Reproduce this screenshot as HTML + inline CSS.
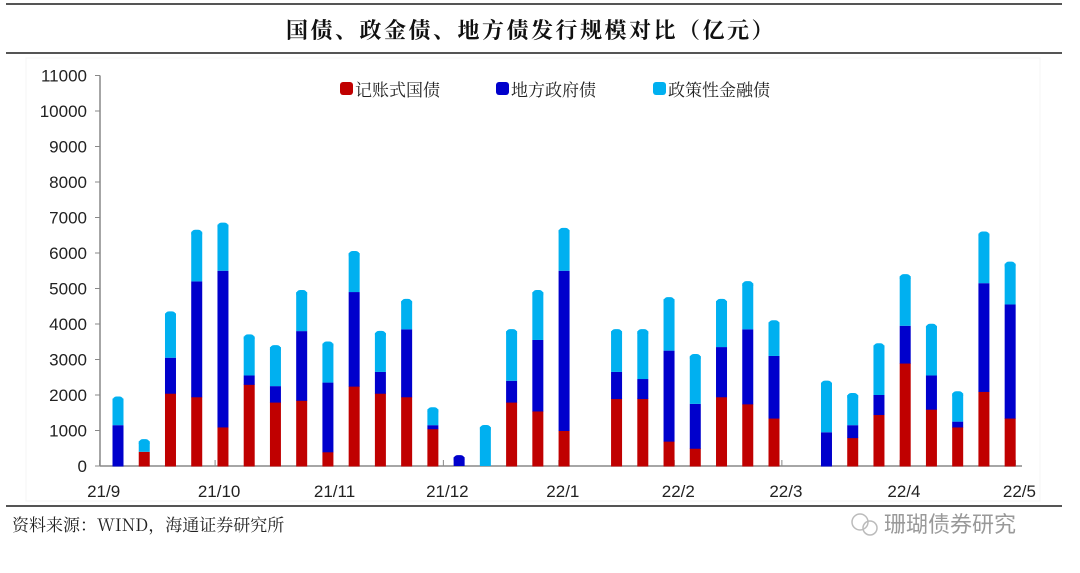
<!DOCTYPE html>
<html><head><meta charset="utf-8"><style>
body{margin:0;background:#fff;width:1080px;height:573px;overflow:hidden;font-family:"Liberation Sans","Noto Sans CJK SC",sans-serif}
svg{display:block}
</style></head><body>
<svg id="chart" width="1080" height="573" xmlns="http://www.w3.org/2000/svg">
<line x1="6" y1="4" x2="1062" y2="4" stroke="#555" stroke-width="2"/>
<text x="531" y="38" text-anchor="middle" font-family="'Noto Serif CJK SC',serif" font-weight="bold" font-size="22" letter-spacing="2.5" fill="#111">国债、政金债、地方债发行规模对比（亿元）</text>
<line x1="6" y1="53" x2="1062" y2="53" stroke="#555" stroke-width="2"/>
<rect x="26" y="58" width="1014" height="443" fill="none" stroke="#f4f4f4"/>
<line x1="6" y1="506" x2="1062" y2="506" stroke="#555" stroke-width="2"/>
<text x="12" y="531" font-family="'Noto Serif CJK SC',serif" font-size="17" fill="#222">资料来源：WIND，海通证券研究所</text>
<g fill="#aaa">
<circle cx="860" cy="522" r="8" fill="none" stroke="#bbb" stroke-width="1.5"/>
<circle cx="870" cy="528" r="7" fill="none" stroke="#bbb" stroke-width="1.5"/>
<text x="884" y="532" font-size="22" fill="#999">珊瑚债券研究</text>
</g>
<g font-size="17" fill="#222" font-family="'Noto Serif CJK SC',serif">
<rect x="340" y="82" width="13" height="13" rx="3" fill="#c00000"/>
<text x="355" y="96">记账式国债</text>
<rect x="496" y="82" width="13" height="13" rx="3" fill="#0000cc"/>
<text x="511" y="96">地方政府债</text>
<rect x="653" y="82" width="13" height="13" rx="3" fill="#00b0f0"/>
<text x="668" y="96">政策性金融债</text>
</g>
<g id="axes"></g>
<g id="bars"></g>
</svg>
<script>
const treasury = [0,400,2050,1950,1100,2300,1800,1850,400,2250,2050,1950,1050,0,0,1800,1550,1000,0,1900,1900,700,500,1950,1750,1350,0,0,800,1450,2900,1600,1100,2100,1350];
const localGov = [1150,0,1000,3250,4400,250,450,1950,1950,2650,600,1900,100,250,0,600,2000,4500,0,750,550,2550,1250,1400,2100,1750,0,950,350,550,1050,950,150,3050,3200];
const policy = [750,300,1250,1400,1300,1100,1100,1100,1100,1100,1100,800,450,0,1100,1400,1350,1150,0,1150,1350,1450,1350,1300,1300,950,0,1400,850,1400,1400,1400,800,1400,1150];
const yTicks = [0,1000,2000,3000,4000,5000,6000,7000,8000,9000,10000,11000];
const monthLabels = ["21/9","21/10","21/11","21/12","22/1","22/2","22/3","22/4","22/5"];
const monthStartIdx = [-0.7,3.7,8.1,12.4,16.8,21.2,25.3,29.8,34.2];

const NS="http://www.w3.org/2000/svg";
const x0=118, step=26.24, y0=466, pxPer=35.5/1000, bw=11;
const xPos=i=>x0+i*step;
const yPos=v=>y0-v*pxPer;
const axes=document.getElementById('axes');
const bars=document.getElementById('bars');
function mk(tag,attrs,parent){const e=document.createElementNS(NS,tag);for(const k in attrs)e.setAttribute(k,attrs[k]);parent.appendChild(e);return e;}

let yl=mk('line',{x1:100,y1:yPos(11000),x2:100,y2:y0,stroke:'#888','stroke-width':1.5},axes);


let xl=mk('line',{x1:100,y1:y0,x2:1022,y2:y0,stroke:'#888','stroke-width':1.5},axes);


yTicks.forEach(v=>{
  const t=mk('line',{x1:95,y1:yPos(v),x2:100,y2:yPos(v),stroke:'#888'},axes);
  
  
  const l=mk('text',{x:87,y:yPos(v)+6,'text-anchor':'end','font-size':17,fill:'#222'},axes);
  l.textContent=v;
  
  
});
monthLabels.forEach((m,i)=>{
  const x=xPos(monthStartIdx[i]);
  const t=mk('line',{x1:x,y1:y0,x2:x,y2:y0-6,stroke:'#888'},axes);
  
  
  const l=mk('text',{x:x+4,y:497,'text-anchor':'middle','font-size':17,fill:'#222'},axes);
  l.textContent=m;
  
  
});
treasury.forEach((r,i)=>{
  const segs=[[r,'#c00000','treasury'],[localGov[i],'#0000cc','local'],[policy[i],'#00b0f0','policy']];
  let base=0;const total=r+localGov[i]+policy[i];
  if(total<=0)return;
  const g=mk('g',{},bars);
  
  
  segs.forEach(([v,c,n])=>{
    if(v<=0)return;
    const top=base+v===total;
    const y1=yPos(base+v), h=yPos(base)-y1;
    const rr=mk('rect',{x:xPos(i)-bw/2,y:y1,width:bw,height:h+(top?0:0.5),fill:c},g);
    
    
    if(top){
      const cap=mk('rect',{x:xPos(i)-bw/2,y:y1-2,width:bw,height:Math.min(8,h+2),rx:4,fill:c},g);
      
      
    }
    base+=v;
  });
});
</script>
</body></html>
